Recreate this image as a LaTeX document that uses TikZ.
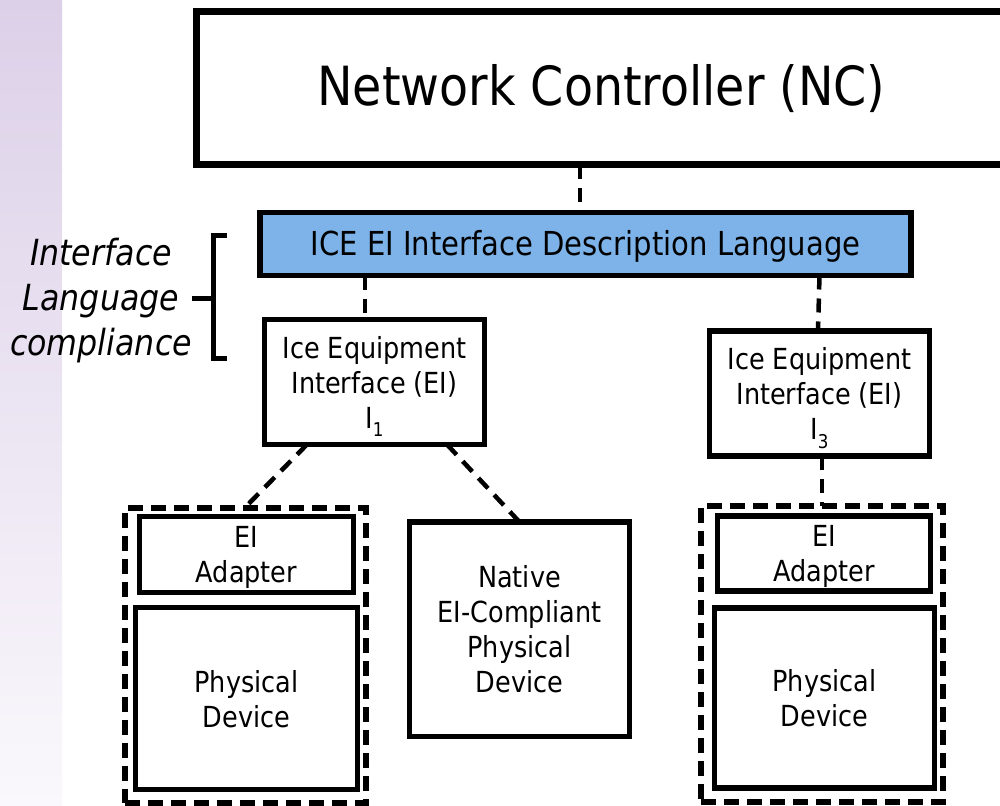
\documentclass[tikz,border=0pt]{standalone}
\usepackage{fontspec}
\setmainfont{DejaVu Sans}[FakeStretch=0.88]
\usetikzlibrary{calc}
\definecolor{idlblue}{RGB}{125,179,232}
\definecolor{striptop}{RGB}{220,208,232}
\definecolor{stripbot}{RGB}{250,248,252}
\tikzset{
  box/.style={draw=black, line width=5.5pt, fill=white, inner sep=0pt, outer sep=0pt, align=center,
    font=\fontsize{29}{35}\selectfont},
  groupbox/.style={draw=black, line width=6pt, dash pattern=on 15pt off 8pt, inner sep=0pt, outer sep=0pt},
  conn/.style={draw=black, line width=4.5pt, dash pattern=on 14pt off 9pt},
  bracket/.style={draw=black, line width=5pt, line join=miter}
}
\newcommand{\subI}[1]{I\raisebox{-0.3em}[\height][0pt]{\fontsize{19}{19}\selectfont #1}}
\begin{document}
\begin{tikzpicture}[x=1pt,y=-1pt]
\useasboundingbox (0,0) rectangle (1000,805);
\clip (0,0) rectangle (1000,805);
\shade[top color=striptop, bottom color=stripbot] (0,0) rectangle (62,805);

% boxes
\node[box, line width=7pt, minimum width=810pt, minimum height=153.5pt,
  font=\fontsize{54}{60}\selectfont] (nc) at (601.5,88.25) {Network Controller (NC)};
\node[box, line width=5.5pt, fill=idlblue, minimum width=651pt, minimum height=63pt,
  font=\fontsize{33}{40}\selectfont, text depth=3pt] (idl) at (585.5,244) {ICE EI Interface Description Language};
\node[box, minimum width=220pt, minimum height=125pt, text depth=0pt] (ei1) at (374.5,382)
  {Ice Equipment\\Interface (EI)\\\subI{1}};
\node[box, minimum width=220pt, minimum height=125pt, text depth=0pt] (ei3) at (819.5,393.5)
  {Ice Equipment\\Interface (EI)\\\subI{3}};
\node[box, minimum width=220pt, minimum height=214.5pt] (native) at (519.5,629.25)
  {Native\\EI-Compliant\\Physical\\Device};

\node[groupbox, minimum width=241pt, minimum height=295pt] (lg) at (245,655) {};
\node[box, minimum width=214pt, minimum height=76pt, text depth=0pt] (la) at (246.5,554.5) {EI\\Adapter};
\node[box, minimum width=222pt, minimum height=182pt, text depth=0pt] (lp) at (246.5,698.5) {Physical\\Device};

\node[groupbox, minimum width=242pt, minimum height=296pt] (rg) at (822,654) {};
\node[box, minimum width=213pt, minimum height=75pt, text depth=0pt] (ra) at (824,553.5) {EI\\Adapter};
\node[box, minimum width=220pt, minimum height=180pt, text depth=0pt] (rp) at (824.5,698) {Physical\\Device};

% connectors
\draw[conn] ([xshift=-5.5pt]idl.north |- nc.south) -- ([xshift=-5.5pt]idl.north);
\draw[conn] ([xshift=-9.5pt]ei1.north |- idl.south) -- ([xshift=-9.5pt]ei1.north);
\draw[conn] (ei3.north |- idl.south) -- ([xshift=-1.5pt]ei3.north);
\draw[conn] (rg.north |- ei3.south) -- (rg.north);
\draw[conn] ($(ei1.south west)+(42.5,0)$) -- (lg.north);
\draw[conn] ($(ei1.south east)+(-37.5,0)$) -- (native.north);

% side label with bracket
\node[align=center, inner sep=0pt, font=\fontsize{36}{45}\selectfont\itshape] (lbl) at (101,301)
  {Interface\\Language\\compliance};
\coordinate (bt) at (227,235);
\coordinate (bb) at (227,358);
\coordinate (bm) at (192,298);
\draw[bracket] (bt) -- (213,235) -- (213,358) -- (bb);
\draw[bracket] (bm) -- (213,298);
\end{tikzpicture}
\end{document}
